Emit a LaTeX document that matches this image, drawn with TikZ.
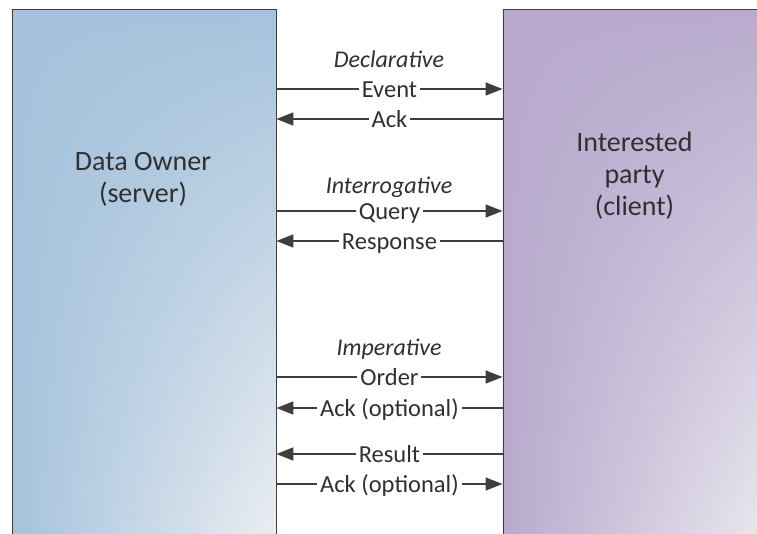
\documentclass[tikz,border=0pt]{standalone}
\usepackage{fontspec}
\setmainfont{Carlito}
\usetikzlibrary{arrows.meta,fadings}
\definecolor{ownblue}{RGB}{166,195,221}
\definecolor{ownpale}{RGB}{240,241,243}
\definecolor{partyviolet}{RGB}{184,171,206}
\definecolor{partypale}{RGB}{238,237,241}
\definecolor{inkgray}{RGB}{48,48,48}
\definecolor{linegray}{RGB}{62,62,62}
\tikzfading[name=topsolid,top color=transparent!0,middle color=transparent!25,bottom color=transparent!100]
\tikzset{
  actor/.style={draw=linegray,line width=0.9pt,inner sep=0pt,anchor=north west,minimum height=560pt},
  glow/.style 2 args={path picture={
    \shade[left color=#1,right color=#2] (path picture bounding box.south west) rectangle (path picture bounding box.north east);
    \fill[#1,path fading=topsolid] (path picture bounding box.south west) rectangle (path picture bounding box.north east);}},
  actorname/.style={align=center,inner sep=0pt,anchor=north,text=inkgray,font=\fontsize{28}{32}\selectfont},
  kind/.style={inner sep=0pt,text=inkgray,font=\fontsize{24}{28}\itshape},
  msg/.style={draw=linegray,line width=1.6pt,-{Triangle[length=17pt,width=13pt]}},
  msglabel/.style={fill=white,inner xsep=3pt,inner ysep=1pt,text height=16pt,text depth=0pt,text=inkgray,font=\fontsize{24.5}{28}\selectfont}
}
\begin{document}
\begin{tikzpicture}[x=1pt,y=-1pt]
\useasboundingbox (0,0) rectangle (757,533);
\clip (0,0) rectangle (757,533);
\pgfmathsetmacro{\mid}{389}
% the two parties
\node[actor,minimum width=264pt,glow={ownblue}{ownpale}] (own) at (11.5,9) {};
\node[actor,minimum width=266pt,glow={partyviolet}{partypale}] (party) at (502.5,9) {};
\node[actorname] (ownname) at (143,152) {Data Owner\\(server)};
\node[actorname] (partyname) at (634.5,132) {Interested\\party\\(client)};
% kinds of exchange
\foreach \k/\yy/\txt in {decl/59/Declarative,inter/187/Interrogative,imper/349/Imperative}{
  \node[kind] (\k) at (\mid,\yy) {\txt};
}
% messages
\foreach \i/\yy/\from/\to/\txt in {1/89/l/r/Event,2/119/r/l/Ack,3/211/l/r/Query,4/241/r/l/Response,
  5/377/l/r/Order,6/408/r/l/Ack (optional),7/454/r/l/Result,8/484/l/r/Ack (optional)}{
  \coordinate (l\i) at (own.east |- 0,\yy);
  \coordinate (r\i) at (party.west |- 0,\yy);
  \draw[msg] (\from\i) -- node[msglabel]{\txt} (\to\i);
}
\end{tikzpicture}
\end{document}
